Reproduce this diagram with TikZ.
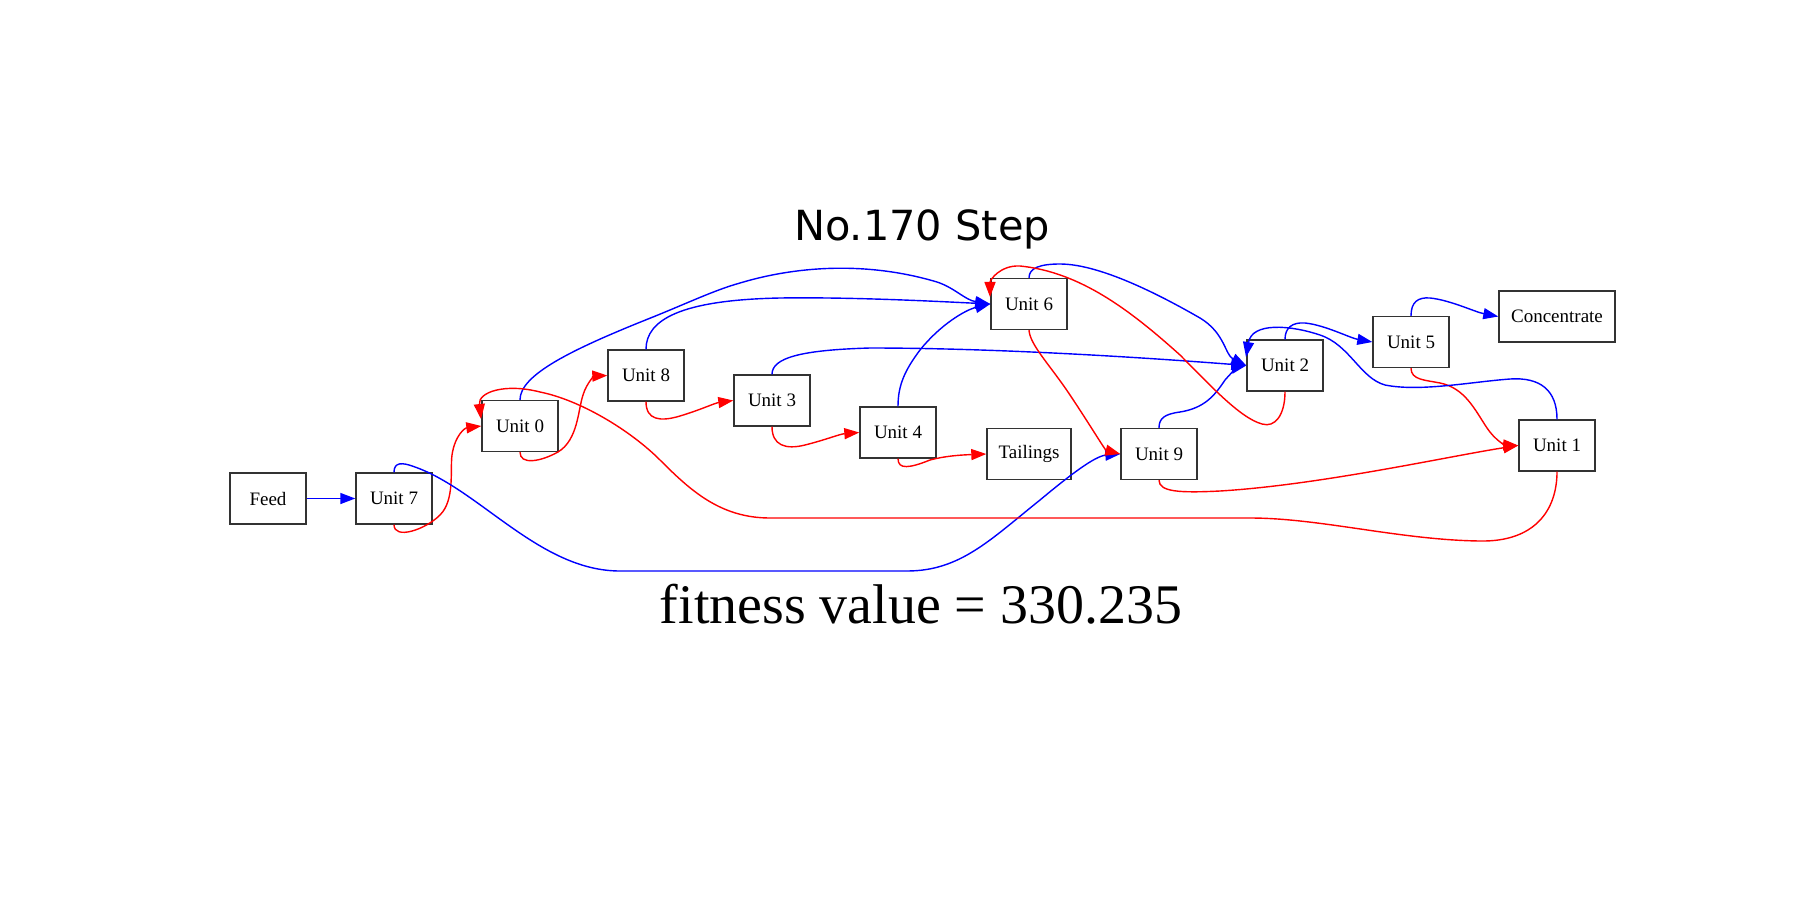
\documentclass[tikz,border=0pt]{standalone}
\usepackage{fontspec}
\setmainfont{Liberation Serif}
\newfontfamily\titlefont{DejaVu Sans}
\usetikzlibrary{arrows.meta,calc}
\begin{document}
\begin{tikzpicture}[x=0.01cm,y=-0.01cm,
  unitbox/.style={draw=black!80,line width=0.38pt,minimum width=0.76cm,minimum height=0.51cm,inner sep=0pt,font=\fontsize{5.4pt}{6pt}\selectfont},
  bl/.style={draw=blue,line width=0.4pt,-{Triangle[length=0.15cm,width=0.11cm]}},
  rd/.style={draw=red,line width=0.4pt,-{Triangle[length=0.15cm,width=0.11cm]}}]
\useasboundingbox[fill=white] (0,0) rectangle (1800,900);
% title and fitness
\node[anchor=base,inner sep=0pt,font=\titlefont\fontsize{11.8pt}{13pt}\selectfont] (title) at (922,240) {No.170 Step};
\node[anchor=base,inner sep=0pt,font=\fontsize{15.9pt}{18pt}\selectfont] (fit) at (921,623) {fitness value = 330.235};
% nodes
\node[unitbox] (feed) at (268,498.5) {Feed};
\node[unitbox] (u7) at (394,498.5) {Unit 7};
\node[unitbox] (u0) at (520,426) {Unit 0};
\node[unitbox] (u8) at (646,375.5) {Unit 8};
\node[unitbox] (u3) at (772,400.5) {Unit 3};
\node[unitbox] (u4) at (898,432.5) {Unit 4};
\node[unitbox] (u6) at (1029,304) {Unit 6};
\node[unitbox,minimum width=0.84cm] (tail) at (1029,454) {Tailings};
\node[unitbox] (u9) at (1159,454) {Unit 9};
\node[unitbox] (u2) at (1285,365.5) {Unit 2};
\node[unitbox] (u5) at (1411,342) {Unit 5};
\node[unitbox,minimum width=1.16cm] (conc) at (1557,316.5) {Concentrate};
\node[unitbox] (u1) at (1557,445.5) {Unit 1};
\coordinate (u6in) at (990,297);
\coordinate (u0in) at (481,419);
\coordinate (u2in) at (1246,357);
% edges
\draw[bl] (feed.east) -- (u7.west);
\draw[rd] (u7.south) .. controls (394,540) and (425,530) .. (440,515) .. controls (455,500) and (450,470) .. (452,455) .. controls (455,435) and (465,428) .. (u0.west);
\draw[bl] (u7.north) .. controls (394,462) and (402,462) .. (415,467) .. controls (480,490) and (540,571) .. (620,571) -- (907,571) .. controls (960,571) and (990,540) .. (1040,500) .. controls (1070,475) and (1095,456) .. (u9.west);
\draw[rd] (u0.south) .. controls (520,465) and (540,462) .. (558,452) .. controls (578,440) and (578,410) .. (583,395) .. controls (587,382) and (595,376) .. (u8.west);
\draw[bl] (u0.north) .. controls (520,375) and (570,350) .. (653,317) .. controls (690,302) and (715,290) .. (740,283) .. controls (800,265) and (870,262) .. (937,282) .. controls (955,288) and (965,300) .. (u6.west);
\draw[bl] (u8.north) .. controls (646,320) and (680,300) .. (780,298) .. controls (850,297) and (930,301) .. (u6.west);
\draw[rd] (u8.south) .. controls (646,420) and (660,422) .. (680,416) .. controls (700,410) and (715,403) .. (u3.west);
\draw[rd] (u3.south) .. controls (772,445) and (785,450) .. (805,445) .. controls (825,440) and (840,434) .. (u4.west);
\draw[bl] (u3.north) .. controls (772,358) and (800,350) .. (870,348) .. controls (1000,348) and (1150,358) .. (u2.west);
\draw[bl] (u4.north) .. controls (898,385) and (905,370) .. (920,350) .. controls (940,325) and (965,310) .. (u6.west);
\draw[rd] (u4.south) .. controls (898,470) and (910,468) .. (930,460) .. controls (945,456) and (960,455) .. (tail.west);
\draw[rd] (u6.south) .. controls (1030,345) and (1050,365) .. (1070,395) .. controls (1090,425) and (1105,450) .. (u9.west);
\draw[bl] (u6.north) .. controls (1029,268) and (1040,264) .. (1060,264) .. controls (1100,264) and (1160,295) .. (1200,318) .. controls (1225,333) and (1225,355) .. (u2.west);
\draw[bl] (u9.north) .. controls (1159,418) and (1165,414) .. (1180,412) .. controls (1205,408) and (1215,395) .. (1225,380) .. controls (1232,372) and (1238,367) .. (u2.west);
\draw[rd] (u9.south) .. controls (1159,492) and (1180,493) .. (1220,491) .. controls (1320,485) and (1450,456) .. (u1.west);
\draw[bl] (u2.north) .. controls (1285,328) and (1292,322) .. (1305,323) .. controls (1325,325) and (1350,338) .. (u5.west);
\draw[rd] (u2.south) .. controls (1285,415) and (1275,428) .. (1262,424) .. controls (1240,418) and (1210,385) .. (1180,355) .. controls (1130,310) and (1080,272) .. (1020,266) .. controls (1000,265) and (990,280) .. (u6in);
\draw[bl] (u5.north) .. controls (1411,302) and (1418,297) .. (1430,298) .. controls (1450,300) and (1475,312) .. (conc.west);
\draw[rd] (u5.south) .. controls (1411,380) and (1425,380) .. (1440,383) .. controls (1465,388) and (1475,410) .. (1487,428) .. controls (1495,440) and (1505,445) .. (u1.west);
\draw[bl] (u1.north) .. controls (1557,390) and (1540,377) .. (1510,379) .. controls (1470,382) and (1420,392) .. (1385,385) .. controls (1360,378) and (1350,345) .. (1320,335) .. controls (1290,325) and (1252,322) .. (u2in);
\draw[rd] (u1.south) .. controls (1557,510) and (1535,542) .. (1480,541) .. controls (1400,540) and (1320,518) .. (1250,518) -- (770,518) .. controls (720,518) and (690,490) .. (660,460) .. controls (630,430) and (580,400) .. (540,392) .. controls (505,383) and (478,392) .. (u0in);
\end{tikzpicture}
\end{document}
